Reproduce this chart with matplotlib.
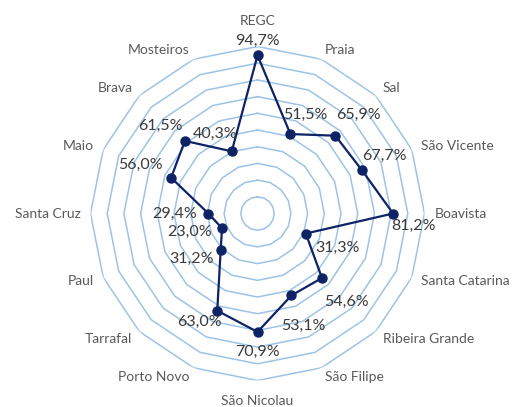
import numpy as np
import matplotlib
matplotlib.use("Agg")
import matplotlib.pyplot as plt

# categories clockwise from the top
categories = ["REGC", "Praia", "Sal", "São Vicente", "Boavista", "Santa Catarina",
              "Ribeira Grande", "São Filipe", "São Nicolau", "Porto Novo", "Tarrafal",
              "Paul", "Santa Cruz", "Maio", "Brava", "Mosteiros"]
values = [94.7, 51.5, 65.9, 67.7, 81.2, 31.3, 54.6, 53.1, 70.9, 63.0, 31.2,
          23.0, 29.4, 56.0, 61.5, 40.3]
ring_levels = [10, 20, 30, 40, 50, 60, 70, 80, 90, 100]

# pixel offsets of the data labels (x right, y down)
label_offsets = [(0, -14), (15, -19), (23, -21), (22, -14), (20, 12), (32, 14),
                 (24, 24), (12, 30), (0, 20), (-18, 11), (-29, 9), (-33, 4),
                 (-34, 0), (-31, -13), (-25, -15), (-17, -17)]

plt.rcParams['font.family'] = ['Lato', 'DejaVu Sans']

fig = plt.figure(figsize=(5.16, 4.07), dpi=100)
ax = fig.add_axes([0.1754, 0.0651, 0.6473, 0.8206], projection='polar')
ax.set_theta_zero_location('N')
ax.set_theta_direction(-1)
ax.set_ylim(0, 100)

n = len(categories)
theta = np.linspace(0, 2 * np.pi, n, endpoint=False)
theta_closed = np.append(theta, theta[0])

# polygon grid rings
for lvl in ring_levels:
    ax.plot(theta_closed, [lvl] * (n + 1), color='#9DC3E6', lw=1.1, zorder=1)

vals_closed = values + values[:1]
ax.plot(theta_closed, vals_closed, color='#0D2366', lw=1.6, zorder=3)
ax.plot(theta, values, 'o', color='#0D2366', ms=6.5, zorder=4)

for t, v, (dx, dy) in zip(theta, values, label_offsets):
    ax.annotate(f"{v:.1f}".replace('.', ',') + '%', (t, v),
                xytext=(dx, -dy), textcoords='offset pixels',
                ha='center', va='center', fontsize=11.5, color='#3A3A3A',
                zorder=5)

# category labels around the outside
for t, name in zip(theta, categories):
    s = np.sin(t)
    if abs(s) < 0.2:
        r = 115 if np.cos(t) > 0 else 112
        ax.text(t, r, name, ha='center', va='center', fontsize=10,
                color='#595959')
    else:
        ax.text(t, 106, name, ha='left' if s > 0 else 'right', va='center',
                fontsize=10, color='#595959')

ax.grid(False)
ax.set_xticks([])
ax.set_yticks([])
ax.spines['polar'].set_visible(False)
ax.patch.set_alpha(0)

fig.savefig('out.png', dpi=100)
